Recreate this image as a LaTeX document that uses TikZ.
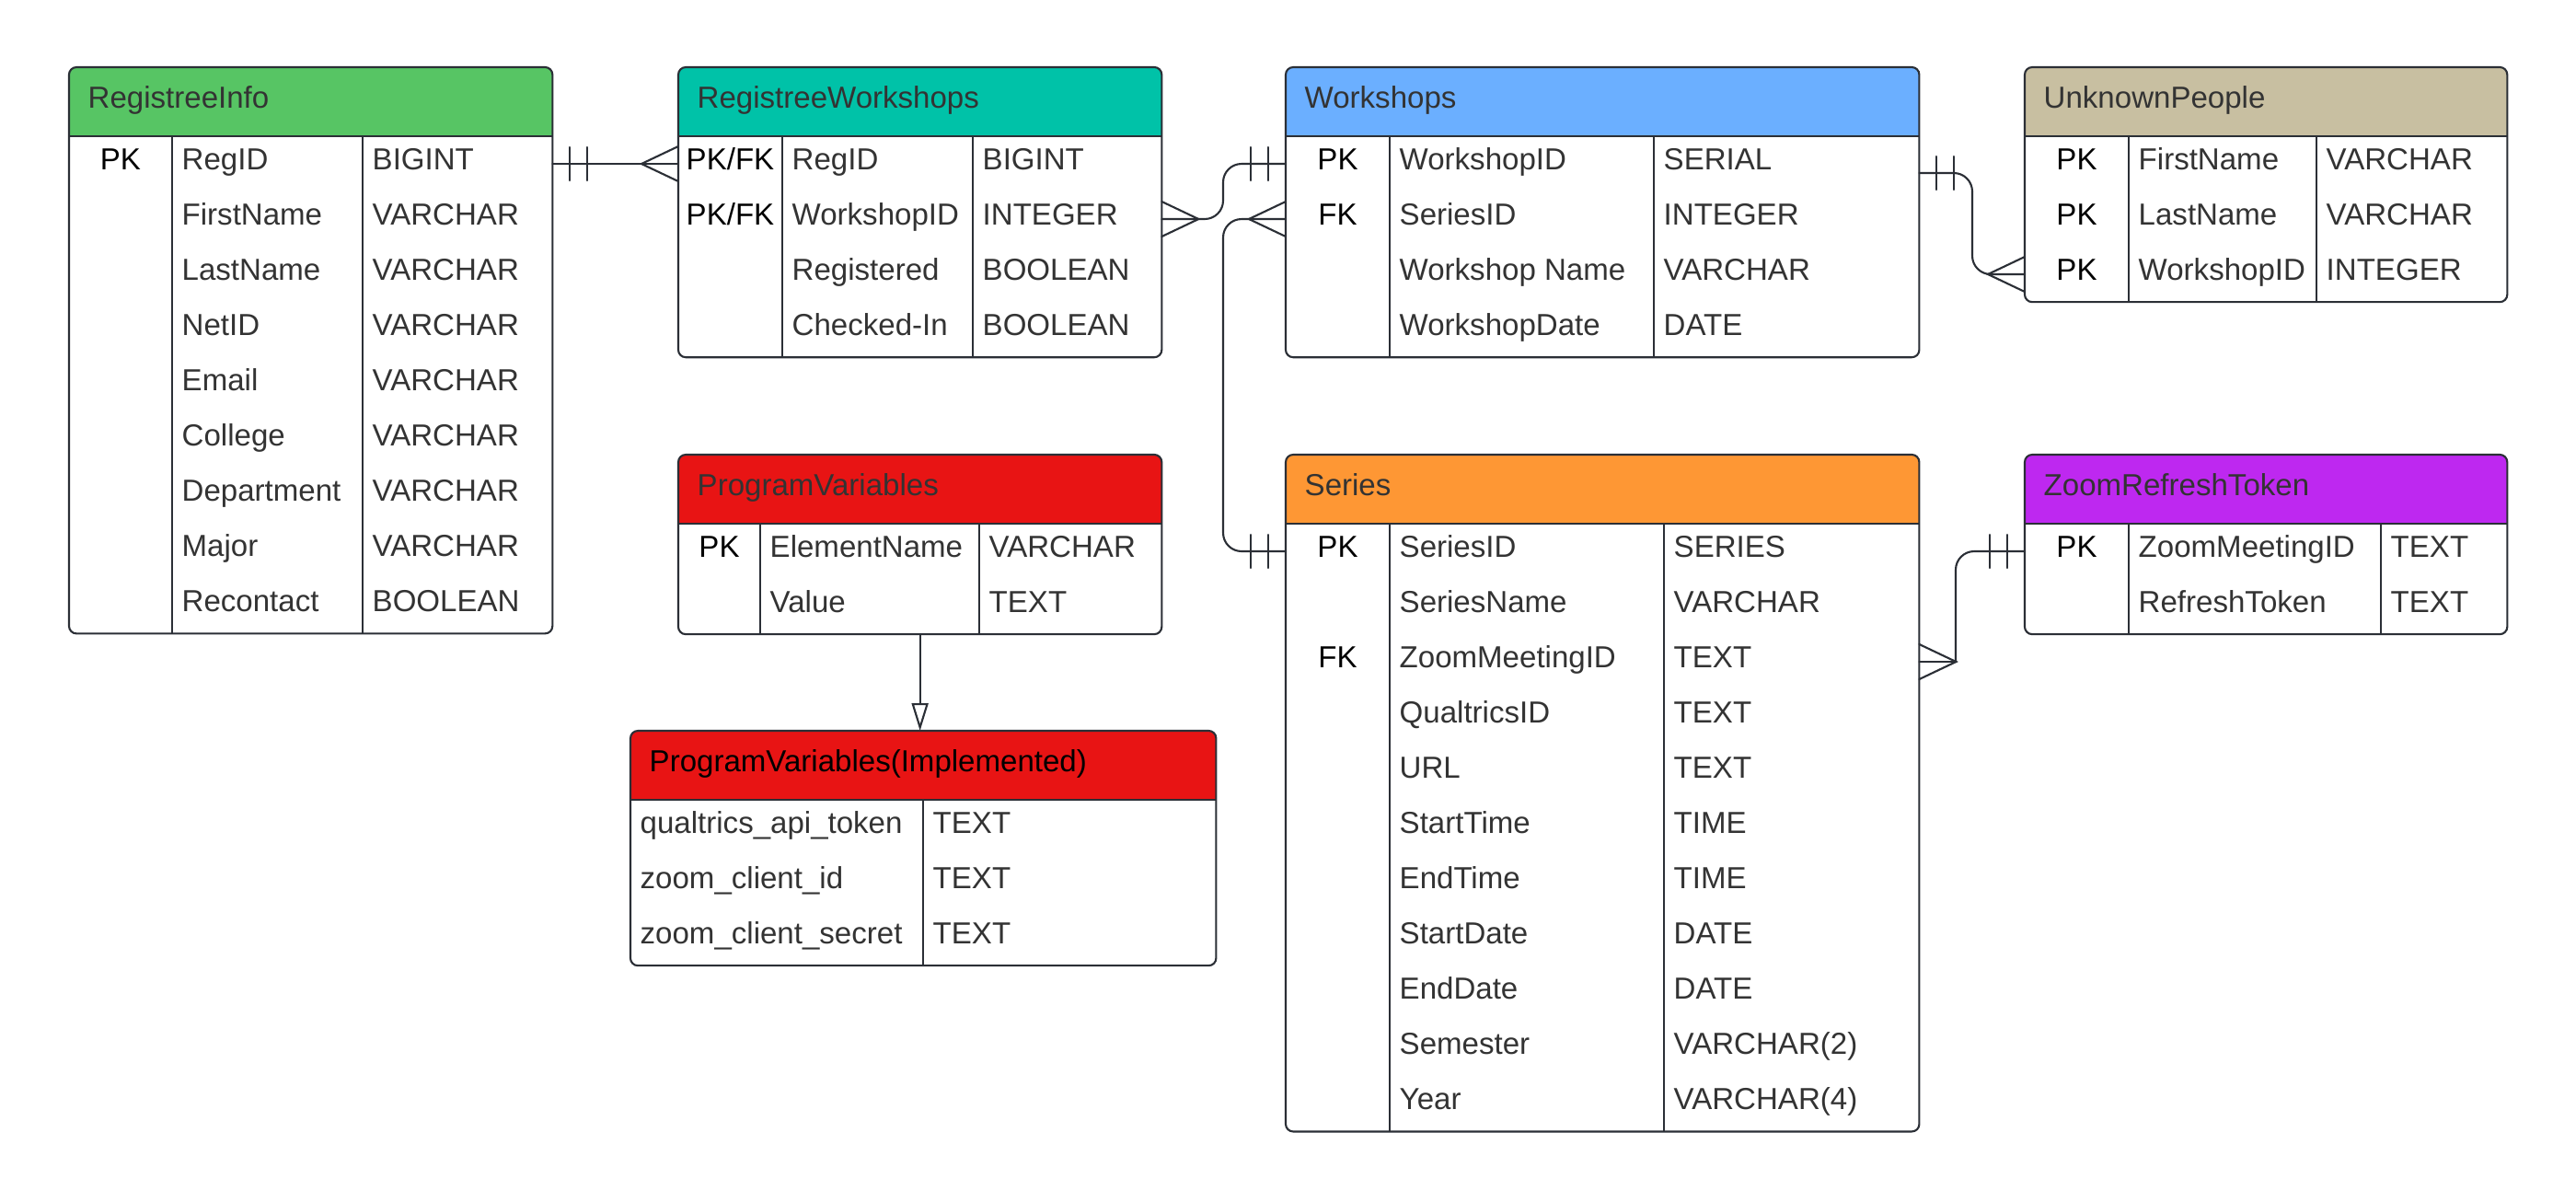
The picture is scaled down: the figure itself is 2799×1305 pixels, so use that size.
\documentclass[tikz,border=0pt]{standalone}
\usepackage{fontspec}
\setmainfont{Liberation Sans}
\usetikzlibrary{calc,arrows.meta}

\definecolor{ink}{HTML}{2B2F36}
\definecolor{txt}{HTML}{333333}
\definecolor{cGreen}{HTML}{57C564}
\definecolor{cTeal}{HTML}{00C2A8}
\definecolor{cBlue}{HTML}{6BAFFF}
\definecolor{cTan}{HTML}{C8BFA1}
\definecolor{cRed}{HTML}{E81414}
\definecolor{cOrange}{HTML}{FE9734}
\definecolor{cPurple}{HTML}{BE28F0}

\newcommand\erfont{\fontsize{9.4}{11}\selectfont}

\tikzset{
  x=0.01cm, y=-0.01cm,
  frame/.style={draw=ink, line width=0.6pt, rounded corners=2.3pt, inner sep=0pt, outer sep=0pt},
  rule/.style={draw=ink, line width=0.6pt},
  slot/.style={inner sep=0pt, outer sep=0pt, minimum height=0.6cm},
  keytext/.style={font=\erfont, text=black, inner sep=0pt, anchor=base},
  celltext/.style={font=\erfont, text=txt, inner sep=0pt, anchor=base west},
  titletext/.style={font=\erfont, inner sep=0pt, anchor=base west},
  conn/.style={draw=ink, line width=0.6pt, line cap=round},
}

% table frame with coloured header: name, left, top, right, rows, fill, title, title colour
\newcommand\erentity[8]{%
  \pgfmathsetmacro\erw{(#4-#2)/100}%
  \pgfmathsetmacro\erh{(75+60*#5)/100}%
  \pgfmathsetmacro\erbot{#3+75+60*#5}%
  \fill[#6] (#2,#3+75) [rounded corners=2.3pt] -- (#2,#3) -- (#4,#3) [sharp corners] -- (#4,#3+75) -- cycle;
  \node[frame, minimum width=\erw cm, minimum height=\erh cm, anchor=north west] (#1) at (#2,#3) {};
  \draw[rule] (#2,#3+75) -- (#4,#3+75);
  \node[titletext, text=#8] (#1-title) at (#2+20,#3+44) {#7};
}

% table rows: name, left, right, top, key divider (empty: none), type divider, key/field/type list
\newcommand\errows[7]{%
  \pgfmathsetmacro\erw{(#3-#2)/100}%
  \ifx\relax#5\relax \def\ernamex{#2}\else \def\ernamex{#5}\draw[rule] (#5,#4+75) -- (#5,\erbot);\fi
  \draw[rule] (#6,#4+75) -- (#6,\erbot);
  \foreach \k/\f/\t [count=\i] in {#7} {%
    \pgfmathsetmacro\ry{#4+45+60*\i}%
    \node[slot, minimum width=\erw cm, anchor=west] (#1-\i) at (#2,\ry) {};
    \ifx\relax#5\relax\else \node[keytext] (#1-\i-k) at ({(#2+#5)/2},\ry+6) {\k};\fi
    \node[celltext] (#1-\i-n) at (\ernamex+10,\ry+6) {\f};
    \node[celltext] (#1-\i-t) at (#6+10,\ry+6) {\t};
  }%
}

% "exactly one" bars and "many" crow foot at a connector end (#2: +1 right, -1 left)
\newcommand\onlyone[2]{%
  \draw[conn] ($(#1)+(#2*19,-18)$) -- ($(#1)+(#2*19,18)$);
  \draw[conn] ($(#1)+(#2*38,-18)$) -- ($(#1)+(#2*38,18)$);
}
\newcommand\crowfoot[2]{%
  \draw[conn] ($(#1)+(0,-19)$) -- ($(#1)+(#2*40,0)$) -- ($(#1)+(0,19)$);
}

\begin{document}
\begin{tikzpicture}
\fill[white] (0,0) rectangle (2799,1305);
\useasboundingbox (0,0) rectangle (2799,1305);

% RegistreeInfo
\erentity{ri}{75}{73}{600}{9}{cGreen}{RegistreeInfo}{txt}
\errows{ri}{75}{600}{73}{187}{394}{PK/RegID/BIGINT, {}/FirstName/VARCHAR, {}/LastName/VARCHAR,
  {}/NetID/VARCHAR, {}/Email/VARCHAR, {}/College/VARCHAR, {}/Department/VARCHAR,
  {}/Major/VARCHAR, {}/Recontact/BOOLEAN}

% RegistreeWorkshops
\erentity{rw}{737}{73}{1262}{4}{cTeal}{RegistreeWorkshops}{txt}
\errows{rw}{737}{1262}{73}{850}{1057}{{PK/FK}/RegID/BIGINT, {PK/FK}/WorkshopID/INTEGER,
  {}/Registered/BOOLEAN, {}/Checked-In/BOOLEAN}

% Workshops
\erentity{ws}{1397}{73}{2085}{4}{cBlue}{Workshops}{txt}
\errows{ws}{1397}{2085}{73}{1510}{1797}{PK/WorkshopID/SERIAL, FK/SeriesID/INTEGER,
  {}/Workshop Name/VARCHAR, {}/WorkshopDate/DATE}

% UnknownPeople
\erentity{up}{2200}{73}{2724}{3}{cTan}{UnknownPeople}{txt}
\errows{up}{2200}{2724}{73}{2313}{2517}{PK/FirstName/VARCHAR, PK/LastName/VARCHAR,
  PK/WorkshopID/INTEGER}

% ProgramVariables
\erentity{pv}{737}{494}{1262}{2}{cRed}{ProgramVariables}{txt}
\errows{pv}{737}{1262}{494}{826}{1064}{PK/ElementName/VARCHAR, {}/Value/TEXT}

% ProgramVariables(Implemented)
\erentity{pvi}{685}{794}{1321}{3}{cRed}{ProgramVariables(Implemented)}{black}
\errows{pvi}{685}{1321}{794}{}{1003}{{}/qualtrics\_api\_token/TEXT, {}/zoom\_client\_id/TEXT,
  {}/zoom\_client\_secret/TEXT}

% Series
\erentity{se}{1397}{494}{2085}{11}{cOrange}{Series}{txt}
\errows{se}{1397}{2085}{494}{1510}{1808}{PK/SeriesID/SERIES, {}/SeriesName/VARCHAR,
  FK/ZoomMeetingID/TEXT, {}/QualtricsID/TEXT, {}/URL/TEXT, {}/StartTime/TIME,
  {}/EndTime/TIME, {}/StartDate/DATE, {}/EndDate/DATE, {}/Semester/VARCHAR(2),
  {}/Year/VARCHAR(4)}

% ZoomRefreshToken
\erentity{zr}{2200}{494}{2724}{2}{cPurple}{ZoomRefreshToken}{txt}
\errows{zr}{2200}{2724}{494}{2313}{2587}{PK/ZoomMeetingID/TEXT, {}/RefreshToken/TEXT}

% routing columns for the bent connectors
\coordinate (jA) at (1329,0);
\coordinate (jB) at (2143,0);
\coordinate (jC) at (2125,0);
\coordinate (wsU) at ($(ws-1.east)+(0,10)$);

% RegistreeInfo.RegID -- RegistreeWorkshops.RegID
\draw[conn] (ri-1.east) -- (rw-1.west);
\onlyone{ri-1.east}{1}
\crowfoot{rw-1.west}{-1}

% RegistreeWorkshops.WorkshopID -- Workshops.WorkshopID
\draw[conn, rounded corners=5.7pt] (rw-2.east) -- (rw-2.east -| jA) -- (ws-1.west -| jA) -- (ws-1.west);
\crowfoot{rw-2.east}{1}
\onlyone{ws-1.west}{-1}

% Workshops.SeriesID -- Series.SeriesID
\draw[conn, rounded corners=5.7pt] (ws-2.west) -- (ws-2.west -| jA) -- (se-1.west -| jA) -- (se-1.west);
\crowfoot{ws-2.west}{-1}
\onlyone{se-1.west}{-1}

% Workshops -- UnknownPeople.WorkshopID
\draw[conn, rounded corners=5.7pt] (wsU) -- (wsU -| jB) -- (up-3.west -| jB) -- (up-3.west);
\onlyone{wsU}{1}
\crowfoot{up-3.west}{-1}

% Series.ZoomMeetingID -- ZoomRefreshToken.ZoomMeetingID
\draw[conn, rounded corners=5.7pt] (zr-1.west) -- (zr-1.west -| jC) -- (se-3.east -| jC);
\draw[conn] (se-3.east) -- (se-3.east -| jC);
\crowfoot{se-3.east}{1}
\onlyone{zr-1.west}{-1}

% ProgramVariables is realised as ProgramVariables(Implemented)
\draw[conn, -{Triangle[open, length=0.3cm, width=0.18cm]}] (pv.south) -- (pv.south |- pvi.north);
\end{tikzpicture}
\end{document}
